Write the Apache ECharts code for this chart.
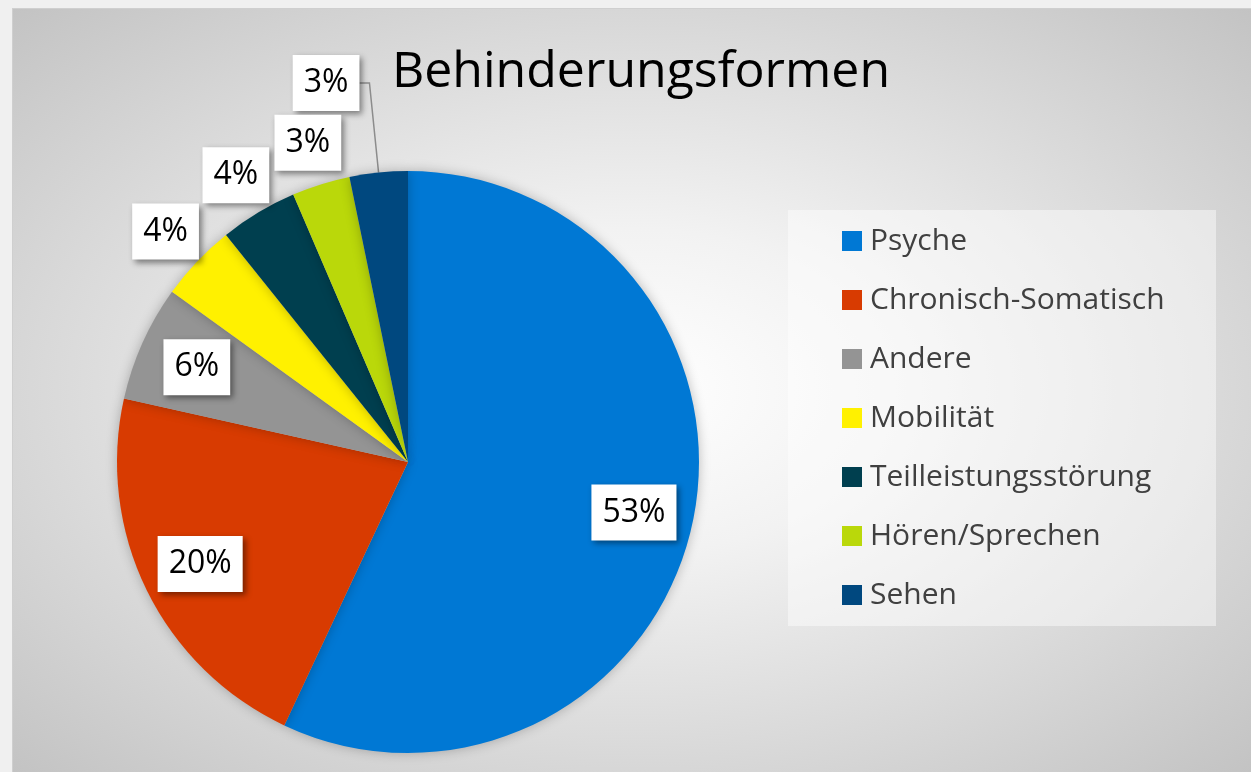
<!DOCTYPE html>
<html>
<head>
<meta charset="utf-8">
<script src="https://cdn.jsdelivr.net/npm/echarts@6/dist/echarts.min.js"></script>
<style>
  html, body { margin: 0; padding: 0; background: #f0f0f0; }
  #chart {
    position: absolute; left: 12px; top: 8px; width: 1239px; height: 764px;
    border-top: 1px solid #cfcfcf; border-left: 1px solid #cfcfcf;
    box-sizing: border-box;
    background: radial-gradient(ellipse farthest-corner at 50% 50%, #ffffff 0%, #f2f2f2 30%, #c3c3c3 100%);
  }
</style>
</head>
<body>
<div id="chart"></div>
<script>
const categories = ['Psyche', 'Chronisch-Somatisch', 'Andere', 'Mobilität', 'Teilleistungsstörung', 'Hören/Sprechen', 'Sehen']
const values = [53, 20, 6, 4, 4, 3, 3]
const colors = ['#0078d4', '#d83b01', '#949494', '#fff100', '#003f4f', '#bad80a', '#00487f']
// which label sits where: inner ring, outer ring, or pulled out with a line
const labelSpot = ['in', 'in', 'in', 'out', 'out', 'out', 'line']

const font = '"Open Sans", "Noto Sans", sans-serif'
const center = [395, 453]
const radius = 291

const boxLabel = {
  formatter: '{c}%',
  fontFamily: font,
  fontSize: 32,
  color: '#000',
  lineHeight: 38,
  backgroundColor: '#fff',
  padding: [9, 11, 9, 11],
  shadowColor: 'rgba(0,0,0,0.45)',
  shadowBlur: 6,
  shadowOffsetX: 3,
  shadowOffsetY: 3
}

function ringData(spot) {
  return categories.map((name, i) => ({
    name: name,
    value: values[i],
    label: { show: labelSpot[i] === spot }
  }))
}

const chart = echarts.init(document.getElementById('chart'), null, { renderer: 'canvas' })
chart.setOption({
  color: colors,
  animation: false,
  title: {
    text: 'Behinderungsformen',
    left: 623,
    top: 34,
    textAlign: 'center',
    textStyle: { fontFamily: font, fontSize: 50, fontWeight: 'normal', color: '#000' }
  },
  graphic: [{
    type: 'rect',
    shape: { x: 775, y: 201, width: 428, height: 416 },
    style: { fill: 'rgba(255,255,255,0.45)' },
    silent: true,
    z: 0
  }],
  legend: {
    orient: 'vertical',
    left: 829,
    top: 217,
    padding: 0,
    data: categories,
    icon: 'rect',
    itemWidth: 20,
    itemHeight: 20,
    itemGap: 29,
    textStyle: { fontFamily: font, fontSize: 30, color: '#404040', lineHeight: 30, padding: [0, 0, 0, 3] },
    selectedMode: false
  },
  series: [
    {
      type: 'pie',
      center: center,
      radius: radius,
      startAngle: 90,
      clockwise: true,
      silent: true,
      avoidLabelOverlap: false,
      itemStyle: { shadowColor: 'rgba(0,0,0,0.25)', shadowBlur: 12 },
      label: Object.assign({ position: 'outside', distanceToLabelLine: 0 }, boxLabel),
      labelLine: { show: true, length: 90, length2: 10, lineStyle: { color: '#8c8c8c', width: 1.5 } },
      data: ringData('line')
    },
    {
      // invisible ring, only places the inner labels
      type: 'pie',
      center: center,
      radius: [166, radius],
      startAngle: 90,
      silent: true,
      avoidLabelOverlap: false,
      minShowLabelAngle: 0,
      itemStyle: { color: 'rgba(0,0,0,0)' },
      label: Object.assign({ position: 'inside' }, boxLabel),
      labelLine: { show: false },
      data: ringData('in')
    },
    {
      // invisible ring outside the pie for the small slices
      type: 'pie',
      center: center,
      radius: [radius, 372],
      startAngle: 90,
      silent: true,
      avoidLabelOverlap: false,
      minShowLabelAngle: 0,
      itemStyle: { color: 'rgba(0,0,0,0)' },
      label: Object.assign({ position: 'inside' }, boxLabel),
      labelLine: { show: false },
      data: ringData('out')
    }
  ]
})
window.addEventListener('resize', () => chart.resize())
</script>
</body>
</html>
